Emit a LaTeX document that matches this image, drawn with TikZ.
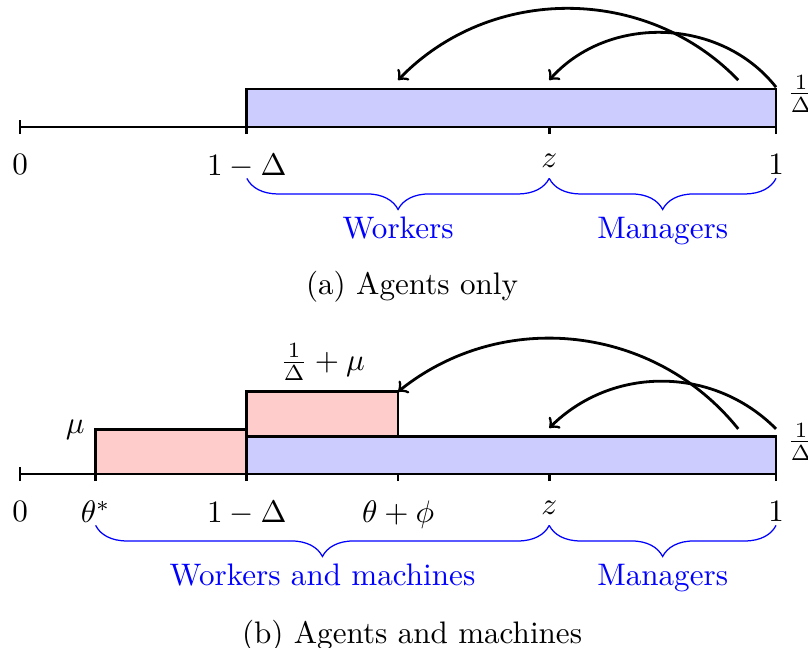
\documentclass[tikz,border=0pt]{standalone}
\usetikzlibrary{decorations.pathreplacing}
\tikzset{
  agents/.style={draw,line width=0.9pt,fill=blue!20},
  machines/.style={draw,line width=0.9pt,fill=red!20},
  group/.style={blue,decorate,decoration={brace,mirror,amplitude=10pt}},
  grouplabel/.style={blue,midway,below=9pt},
}
\begin{document}
\begin{tikzpicture}[x=8.54cm,y=1cm]
    \useasboundingbox (-0.0265,1.435) rectangle (1.0423,-5.876);
    % (a) agents only
    \draw[line width=0.9pt] (0,0) -- (1,0);
    \foreach \t in {0,0.3,0.7,1} \draw[line width=0.9pt] (\t,-0.08) -- (\t,0.08);
    \draw[agents] (0.3,0) rectangle (1,0.43);
    \node[right,yshift=-1.5pt] (hA) at (1,0.43) {$\frac{1}{\Delta}$};
    \foreach \t/\lab/\n in {0/0/zeroA,0.3/1-\Delta/lowA,0.7/z/zA,1/1/oneA}
        \node[below] (\n) at (\t,-0.18) {$\lab$};
    \draw[group] (0.3,-0.58) -- (0.7,-0.58) node[grouplabel] (wA) {Workers};
    \draw[group] (0.7,-0.58) -- (1,-0.58) node[grouplabel] (mA) {Managers};
    \node (capA) at (0.5185,-1.80) {(a) Agents only};
    \coordinate (fromA1) at (0.95,0.53);
    \coordinate (toA1) at (0.5,0.53);
    \coordinate (fromA2) at (1,0.45);
    \coordinate (toA2) at (0.7,0.53);
    \draw[->,line width=0.9pt] (fromA1) to[bend right=46] (toA1);
    \draw[->,line width=0.9pt] (fromA2) to[bend right=50] (toA2);
    % (b) agents and machines
    \begin{scope}[yshift=-3.92cm]
    \draw[line width=0.9pt] (0,0) -- (1,0);
    \foreach \t in {0,0.1,0.3,0.5,0.7,1} \draw[line width=0.9pt] (\t,-0.08) -- (\t,0.08);
    \draw[machines] (0.1,0) rectangle (0.3,0.5);
    \draw[agents] (0.3,0) rectangle (1,0.42);
    \draw[machines] (0.3,0.42) rectangle (0.5,0.93);
    \node[left] (muB) at (0.1,0.5) {$\mu$};
    \node[above] (topB) at (0.4,0.93) {$\frac{1}{\Delta}+\mu$};
    \node[right,yshift=-1.5pt] (hB) at (1,0.42) {$\frac{1}{\Delta}$};
    \foreach \t/\lab/\n in {0/0/zeroB,0.1/\theta^*/thetaB,0.3/1-\Delta/lowB,0.5/\theta+\phi/phiB,0.7/z/zB,1/1/oneB}
        \node[below] (\n) at (\t,-0.18) {$\lab$};
    \draw[group] (0.1,-0.58) -- (0.7,-0.58) node[grouplabel] (wB) {Workers and machines};
    \draw[group] (0.7,-0.58) -- (1,-0.58) node[grouplabel] (mB) {Managers};
    \node (capB) at (0.5185,-1.83) {(b) Agents and machines};
    \coordinate (fromB1) at (0.95,0.51);
    \coordinate (toB1) at (0.5,0.93);
    \coordinate (fromB2) at (1,0.51);
    \coordinate (toB2) at (0.7,0.52);
    \draw[->,line width=0.9pt] (fromB1) to[bend right=45] (toB1);
    \draw[->,line width=0.9pt] (fromB2) to[bend right=45] (toB2);
    \end{scope}
\end{tikzpicture}
\end{document}
